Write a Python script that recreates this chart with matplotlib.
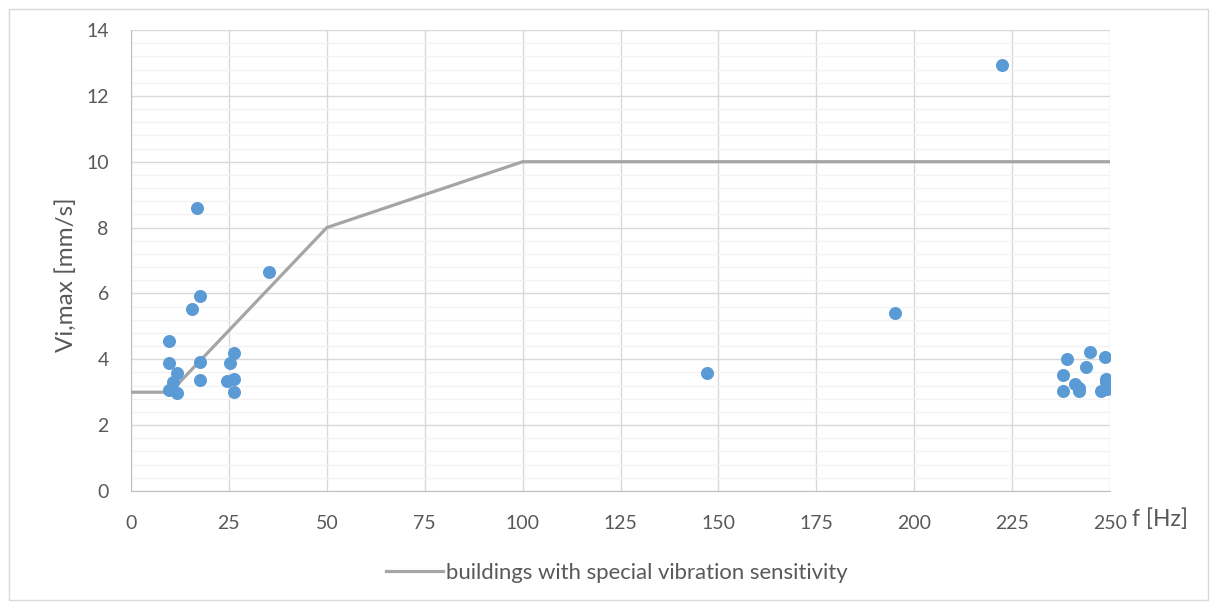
import matplotlib
matplotlib.use('Agg')
import matplotlib.pyplot as plt
from matplotlib.ticker import MultipleLocator
from matplotlib.patches import Rectangle

plt.rcParams['font.family'] = ['Lato', 'DejaVu Sans']

# measured points
freq = [16.8, 35.2, 17.6, 15.7, 9.8, 9.8, 17.6, 26.3, 25.4, 11.7, 17.6, 10.8,
        24.4, 26.4, 9.8, 11.8, 26.4, 147.1, 195.1, 222.4,
        239.1, 244.9, 248.8, 243.9, 238.1, 238.1, 241.1, 242.2, 242.0,
        249.0, 249.0, 247.7, 249.2]
vmax = [8.6, 6.65, 5.93, 5.54, 4.55, 3.9, 3.91, 4.19, 3.9, 3.57, 3.37, 3.3,
        3.33, 3.39, 3.07, 2.99, 3.0, 3.58, 5.41, 12.94,
        4.0, 4.23, 4.07, 3.78, 3.51, 3.03, 3.24, 3.04, 3.14,
        3.4, 3.3, 3.04, 3.09]

# limit line
limit_f = [0, 10, 50, 100, 250]
limit_v = [3, 3, 8, 10, 10]

fig = plt.figure(figsize=(12.15, 6.09), dpi=100)
ax = fig.add_axes([131/1215, 1 - 491/609, 979/1215, 461/609])

fig.patches.append(Rectangle((9/1215, 9/609), 1199/1215, 591/609, transform=fig.transFigure,
                             fill=False, edgecolor='#d9d9d9', linewidth=1))

ax.plot(limit_f, limit_v, color='#a5a5a5', linewidth=2.3, zorder=3,
        label='buildings with special vibration sensitivity')
ax.scatter(freq, vmax, s=88, color='#5b9bd5', zorder=4, linewidths=0)

ax.set_xlim(0, 250)
ax.set_ylim(0, 14)
ax.xaxis.set_major_locator(MultipleLocator(25))
ax.yaxis.set_major_locator(MultipleLocator(2))
ax.yaxis.set_minor_locator(MultipleLocator(0.4))
ax.grid(True, which='major', color='#d9d9d9', linewidth=1, zorder=0)
ax.grid(True, which='minor', axis='y', color='#f2f2f2', linewidth=1, zorder=0)
ax.set_axisbelow(True)
ax.tick_params(which='both', length=0, labelsize=14, labelcolor='#595959')
ax.tick_params(axis='x', pad=17)
ax.tick_params(axis='y', pad=16)
for s in ['top', 'right']:
    ax.spines[s].set_visible(False)
for s in ['left', 'bottom']:
    ax.spines[s].set_color('#bfbfbf')

fig.text(66/1215, 1 - 275/609, 'Vi,max [mm/s]', fontsize=17.5, color='#595959',
         rotation=90, ha='center', va='center')
fig.text(1132/1215, 1 - 519/609, 'f [Hz]', fontsize=16.5, color='#595959',
         ha='left', va='center')

ax.legend(loc='center', bbox_to_anchor=(0.4964, -0.178), frameon=False,
          fontsize=15.9, labelcolor='#595959', handlelength=2.55, handletextpad=0.15)

fig.savefig('out.png', dpi=100)
